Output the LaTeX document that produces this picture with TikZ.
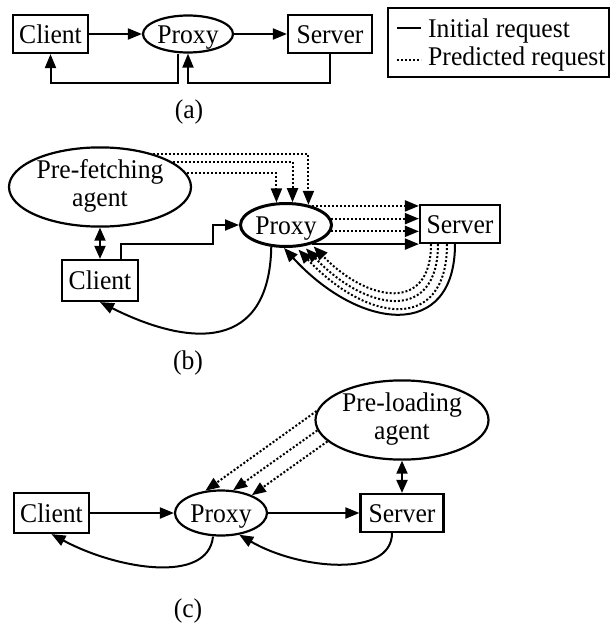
\documentclass[tikz,border=0pt]{standalone}
\usepackage{fontspec}
\usepackage{graphicx}
\setmainfont{Liberation Serif}
\usetikzlibrary{shapes.geometric,arrows.meta}
\newcommand{\tx}[1]{\scalebox{0.95}[1]{#1}}
\begin{document}
\begin{tikzpicture}[x=1pt,y=-1pt,
  every node/.style={font=\fontsize{27}{28}\selectfont, inner sep=0pt},
  capc/.style={text height=18.6pt, text depth=0pt},
  arr/.style={line width=2pt, -{Triangle[length=14pt,width=11pt]}},
  dotarr/.style={arr, dash pattern=on 2pt off 2pt},
  darr/.style={line width=2pt, {Triangle[length=13pt,width=11pt]}-{Triangle[length=13pt,width=11pt]}},
  oval/.style={draw, ellipse, line width=2.2pt},
  box/.style={draw, rectangle, line width=2.2pt, minimum width=78pt, minimum height=38pt, capc}]
\useasboundingbox (0,0) rectangle (610,624);

% ---------- (a)
\node[box, minimum width=75pt] (clientA) at (50.5,34) {\tx{Client}};
\node[oval, capc, minimum width=90pt, minimum height=37pt] (proxyA) at (188,34) {\tx{Proxy}};
\node[box, minimum width=84pt] (serverA) at (330,34) {\tx{Server}};
\draw[arr] (clientA.east) -- (proxyA.west);
\draw[arr] (proxyA.east) -- (serverA.west);
\coordinate (a1) at (178,83);
\coordinate (a2) at (330,83);
\draw[arr] ([xshift=-10pt]proxyA.south) -- (a1) -| (clientA.south);
\draw[arr] (serverA.south) -- (a2) -| (proxyA.south);
\node (capA) at (189,112) {\tx{(a)}};

% legend
\node[draw, line width=2.2pt, minimum width=221pt, minimum height=69pt] (legend) at (498.5,42.5) {};
\coordinate (l1a) at (397,28);
\coordinate (l1b) at (421,28);
\coordinate (l2a) at (397,60);
\coordinate (l2b) at (421,60);
\draw[line width=2pt] (l1a) -- (l1b);
\draw[line width=2pt, dash pattern=on 2pt off 2pt] (l2a) -- (l2b);
\node[anchor=base west] (t1) at (428,37) {\tx{Initial request}};
\node[anchor=base west] (t2) at (428,65) {\tx{Predicted request}};

% ---------- (b)
\node[oval, minimum width=182pt, minimum height=70pt] (pre) at (100,187) {\tx{\begin{tabular}{@{}c@{}}Pre-fetching\\agent\end{tabular}}};
\node[oval, capc, line width=3pt, minimum width=91pt, minimum height=43pt] (proxyB) at (286,225) {\tx{Proxy}};
\node[box, minimum width=80pt] (serverB) at (460,224) {\tx{Server}};
\node[box, minimum width=76pt, minimum height=41pt] (clientB) at (100,280.5) {\tx{Client}};
\draw[darr] (pre.south) -- (clientB.north);
\draw[dotarr] (pre.32) -| (proxyB.42);
\draw[dotarr] (pre.19) -| (proxyB.74);
\draw[dotarr] (pre.9) -| (proxyB.113);
\draw[dotarr] (proxyB.36) -- (proxyB.36 -| serverB.west);
\draw[dotarr] (proxyB.8) -- (proxyB.8 -| serverB.west);
\draw[dotarr] (proxyB.-8) -- (proxyB.-8 -| serverB.west);
\draw[arr] (proxyB.-36) -- (proxyB.-36 -| serverB.west);
\coordinate (s1) at (213,244);
\draw[arr] ([xshift=21pt]clientB.north) |- (s1) |- (proxyB.west);
\draw[arr] ([xshift=-5pt]serverB.south) .. controls +(0,97) and +(76,83) .. (proxyB.-95);
\draw[dotarr, shorten >=3pt] ([xshift=-13pt]serverB.south) .. controls +(0,90) and +(70,75) .. (proxyB.-65);
\draw[dotarr, shorten >=3pt] ([xshift=-22pt]serverB.south) .. controls +(0,80) and +(62,65) .. (proxyB.-50);
\draw[dotarr, shorten >=3pt] ([xshift=-29pt]serverB.south) .. controls +(0,70) and +(55,57) .. (proxyB.-37);
\draw[arr] (proxyB.-124) .. controls +(-2,105) and +(90,45) .. (clientB.south);
\node (capB) at (188,363) {\tx{(b)}};

% ---------- (c)
\node[oval, minimum width=173pt, minimum height=66pt] (preC) at (402,420) {\tx{\begin{tabular}{@{}c@{}}Pre-loading\\agent\end{tabular}}};
\node[box, minimum width=75pt, minimum height=40pt] (clientC) at (51.5,513) {\tx{Client}};
\node[oval, capc, minimum width=92pt, minimum height=45pt] (proxyC) at (221,513) {\tx{Proxy}};
\node[box, minimum width=83pt] (serverC) at (402,513) {\tx{Server}};
\draw[darr] (preC.south) -- (serverC.north);
\draw[arr] (clientC.east) -- (proxyC.west);
\draw[arr] (proxyC.east) -- (serverC.west);
\draw[dotarr] (preC.174) -- (proxyC.125);
\draw[dotarr] (preC.187) -- (proxyC.62);
\draw[dotarr] (preC.196) -- (proxyC.30);
\draw[arr] ([xshift=-8pt]proxyC.south) .. controls +(-5,48) and +(65,35) .. (clientC.south);
\draw[arr] ([xshift=-10pt]serverC.south) .. controls +(0,45) and +(60,35) .. (proxyC.-50);
\node (capC) at (188,611) {\tx{(c)}};
\end{tikzpicture}
\end{document}
